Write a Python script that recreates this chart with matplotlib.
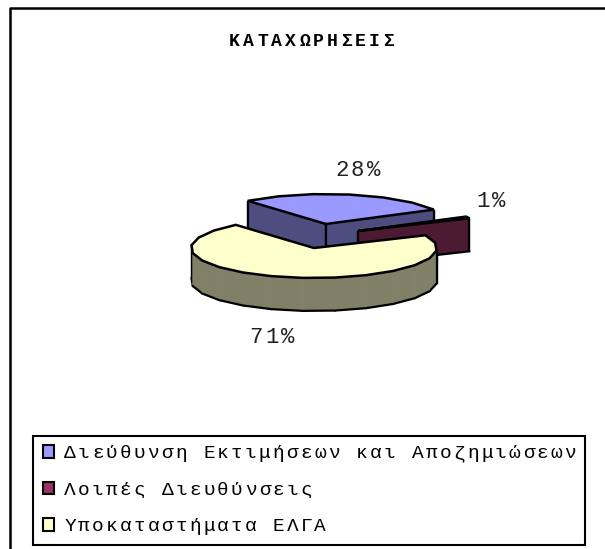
import numpy as np
import matplotlib
matplotlib.use('Agg')
import matplotlib.pyplot as plt
from matplotlib.patches import Patch
from matplotlib.text import Text
from matplotlib.transforms import IdentityTransform

title = 'ΚΑΤΑΧΩΡΗΣΕΙΣ'
categories = ['Διεύθυνση Εκτιμήσεων και Αποζημιώσεων', 'Λοιπές Διευθύνσεις', 'Υποκαταστήματα ΕΛΓΑ']
values = [28, 1, 71]

top_colors = ['#9999FF', '#993366', '#FFFFCC']
side_colors = ['#4D4D80', '#4D1A33', '#808066']
# pie centre of each slice after explosion, in pixels
centres = [(326, 224), (358, 231), (314, 248)]
pct_pos = [(335, 176), (476, 207), (249, 343)]

rx, ry = 123, 30
depth = 33
start_angle = 129.5
facet = 15


def track_text(t, step):
    # the original has wide letter spacing, matplotlib has no option for it
    def draw(renderer):
        fig = t.get_figure()
        x, y = t.get_transform().transform(t.get_unitless_position())
        for i, ch in enumerate(t.get_text()):
            c = Text(x + i * step, y, ch, fontproperties=t.get_fontproperties(),
                     color=t.get_color(), va='baseline', ha='left',
                     transform=IdentityTransform())
            c.set_figure(fig)
            c.draw(renderer)
    t.draw = draw


def draw_slice(ax, centre, a0, a1, top, side, z):
    cx, cy = centre
    n = max(int(abs(a1 - a0) / facet), 1)
    ang = np.radians(np.linspace(a0, a1, n + 1))
    xs = np.r_[cx, cx + rx * np.cos(ang)]
    ys = np.r_[cy, cy - ry * np.sin(ang)]
    order = []
    for i in range(len(xs)):
        j = (i + 1) % len(xs)
        order.append(((ys[i] + ys[j]) / 2, i, j))
    extremes = {int(np.argmin(xs)), int(np.argmax(xs)), 0}
    for _, i, j in sorted(order):
        z += 1
        ax.fill([xs[i], xs[j], xs[j], xs[i]], [ys[i], ys[j], ys[j] + depth, ys[i] + depth],
                color=side, lw=0.5, zorder=z)
        ax.plot([xs[i], xs[j]], [ys[i] + depth, ys[j] + depth], color='k', lw=1.6, zorder=z,
                solid_capstyle='round')
        for k in (i, j):
            if k in extremes:
                ax.plot([xs[k], xs[k]], [ys[k], ys[k] + depth], color='k', lw=1.6, zorder=z,
                        solid_capstyle='butt')
    z += 1
    ax.fill(xs, ys, facecolor=top, edgecolor='k', lw=1.8, zorder=z)
    return z


fig = plt.figure(figsize=(6.05, 5.49), dpi=100)
ax = fig.add_axes([0, 0, 1, 1])
ax.set_xlim(0, 605)
ax.set_ylim(549, 0)
ax.axis('off')

ax.plot([10, 10, 605], [549, 8, 8], color='k', lw=1.8)

t = ax.text(229, 46, title, family='Liberation Mono', fontweight='bold', fontsize=13, va='baseline')
track_text(t, 14.0)

angle = start_angle
z = 2
for v, c, top, side in zip(values, centres, top_colors, side_colors):
    z = draw_slice(ax, c, angle, angle - v * 3.6, top, side, z)
    angle -= v * 3.6

for v, p in zip(values, pct_pos):
    t = ax.text(p[0], p[1], f'{v}%', family='Liberation Mono', fontsize=16, color='#222222',
                va='baseline', zorder=z + 1)
    track_text(t, 16)

handles = [Patch(facecolor=c, edgecolor='k', lw=1.5) for c in top_colors]
leg = ax.legend(handles, categories, loc='lower left',
                bbox_to_anchor=(33 / 605, 4 / 549, 552 / 605, 112 / 549),
                bbox_transform=fig.transFigure, mode='expand', borderaxespad=0,
                prop={'family': 'Liberation Mono', 'size': 14},
                handlelength=0.6, handleheight=0.6, handletextpad=0.5,
                borderpad=0.5, labelspacing=1.0, fancybox=False, framealpha=1,
                edgecolor='k')
leg.set_zorder(z + 1)
leg.get_frame().set_linewidth(1.5)
for t in leg.get_texts():
    track_text(t, 13.9)

fig.savefig('out.png', dpi=100)
